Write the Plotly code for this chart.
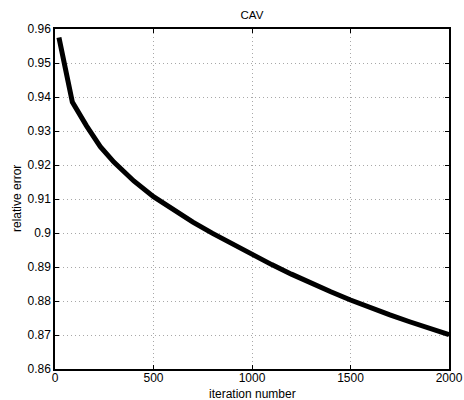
import plotly.graph_objects as go

# Convergence of the CAV method: relative error against iteration count
iterations = [20, 88, 160, 230, 300, 400, 500, 600, 700, 800, 900, 1000,
              1100, 1200, 1300, 1400, 1500, 1600, 1700, 1800, 1900, 2000]
relative_error = [0.9575, 0.9385, 0.9315, 0.9254, 0.9208, 0.9153, 0.9107,
                  0.9068, 0.9032, 0.8999, 0.8967, 0.8937, 0.8907, 0.8879,
                  0.8852, 0.8827, 0.8803, 0.8780, 0.8759, 0.8739, 0.8720,
                  0.8701]

x_ticks = [0, 500, 1000, 1500, 2000]
y_ticks = [0.86, 0.87, 0.88, 0.89, 0.90, 0.91, 0.92, 0.93, 0.94, 0.95, 0.96]
y_tick_text = ["0.86", "0.87", "0.88", "0.89", "0.9", "0.91", "0.92",
               "0.93", "0.94", "0.95", "0.96"]

font_family = "Liberation Sans, Arial, sans-serif"
label_size = 12

fig = go.Figure()
fig.add_trace(go.Scatter(
    x=iterations, y=relative_error, mode="lines",
    line=dict(color="black", width=5),
    showlegend=False,
))

axis_common = dict(
    showline=True, linecolor="black", linewidth=1.5, mirror="ticks",
    ticks="inside", ticklen=4, tickcolor="black",
    showgrid=True, gridcolor="#a8a8a8", griddash="1px,3px", gridwidth=1,
    zeroline=False, automargin=False,
    tickfont=dict(family=font_family, size=label_size, color="black"),
)

fig.update_layout(
    width=464, height=400, autosize=False,
    margin=dict(l=55, r=15, t=29, b=31, autoexpand=False),
    paper_bgcolor="white", plot_bgcolor="white",
    font=dict(family=font_family, size=label_size, color="black"),
    title=dict(text="CAV", x=0.543, xanchor="center", y=1 - 15 / 400,
               yanchor="middle", font=dict(family=font_family, size=11.5)),
    xaxis=dict(range=[0, 2000], tickvals=x_ticks, ticklabelstandoff=-3,
               **axis_common),
    yaxis=dict(range=[0.86, 0.96], tickvals=y_ticks, ticktext=y_tick_text,
               **axis_common),
)

fig.add_annotation(
    text="iteration number", xref="paper", yref="paper",
    x=0.5, y=-25 / 340, xanchor="center", yanchor="middle",
    showarrow=False, font=dict(family=font_family, size=label_size),
)
fig.add_annotation(
    text="relative error", xref="paper", yref="paper",
    x=-38 / 394, y=0.5, xanchor="center", yanchor="middle", textangle=-90,
    showarrow=False, font=dict(family=font_family, size=label_size),
)

fig.write_html("out.html")
